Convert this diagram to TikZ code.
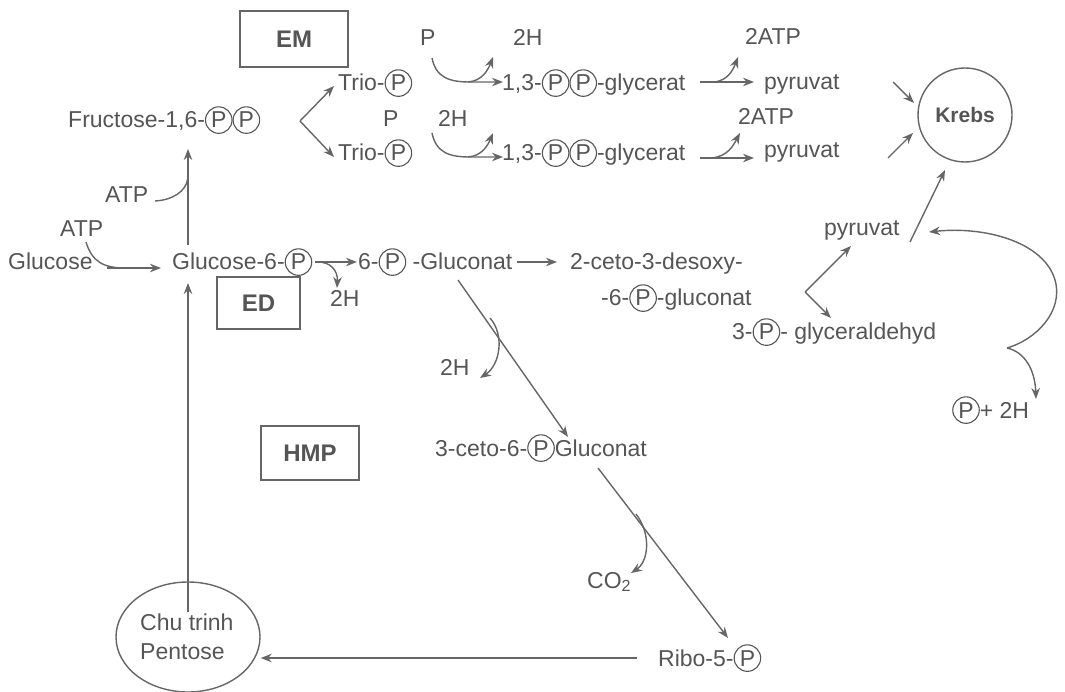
\documentclass[tikz,border=0pt]{standalone}
\usepackage{fontspec}
\setmainfont{Liberation Sans}
\usetikzlibrary{arrows.meta,shapes.geometric}
\definecolor{txt}{HTML}{555555}
\definecolor{lnc}{HTML}{666666}
\newcommand{\cP}{\tikz[baseline=(cpin.base)]\node[draw=txt,circle,line width=1.1pt,inner sep=0pt,minimum size=26.5pt,text=txt] (cpin) {P};}
\tikzset{
  lbl/.style={anchor=base west, inner sep=0pt, text=txt, font=\fontsize{23}{27}\selectfont},
  boxlbl/.style={draw=lnc, line width=1.4pt, text=txt, font=\fontsize{24}{28}\selectfont\bfseries, inner sep=0pt},
  arr/.style={draw=lnc, line width=1.4pt, -{Stealth[length=11pt,width=8.5pt]}},
  pln/.style={draw=lnc, line width=1.4pt}
}
\begin{document}
\begin{tikzpicture}[x=1pt,y=-1pt]
\useasboundingbox (0,0) rectangle (1065,692);
% boxes
\node[boxlbl, minimum width=108pt, minimum height=56pt] (em) at (294,39) {EM};
\node[boxlbl, minimum width=83pt, minimum height=52pt] (ed) at (258.5,303) {ED};
\node[boxlbl, minimum width=98pt, minimum height=54pt] (hmp) at (310,453) {HMP};
\node[draw=lnc, line width=1.4pt, circle, minimum size=94pt, inner sep=0pt, text=txt, font=\fontsize{21}{25}\selectfont\bfseries] (krebs) at (965,115) {Krebs};
\node[draw=lnc, line width=1.4pt, ellipse, minimum width=144pt, minimum height=110pt] (pent) at (188,637) {};
\node[text=txt, font=\fontsize{23}{29}\selectfont, align=left, anchor=north west, inner sep=0pt] (pentt) at (140,614) {Chu trinh\\Pentose};
% labels
\node[lbl] (fru) at (68,128) {Fructose-1,6-\cP\cP};
\node[lbl] (trio1) at (338,91) {Trio-\cP};
\node[lbl] (trio2) at (338,161) {Trio-\cP};
\node[lbl] (p1) at (420,46) {P};
\node[lbl] (h1) at (513,46) {2H};
\node[lbl] (p2) at (383,127) {P};
\node[lbl] (h2) at (438,127) {2H};
\node[lbl] (gly1) at (502,91) {1,3-\cP\cP-glycerat};
\node[lbl] (gly2) at (502,161) {1,3-\cP\cP-glycerat};
\node[lbl] (atp1) at (745,45) {2ATP};
\node[lbl] (atp2) at (738,125) {2ATP};
\node[lbl] (pyr1) at (764,90) {pyruvat};
\node[lbl] (pyr2) at (764,158) {pyruvat};
\node[lbl] (atpa) at (105,203) {ATP};
\node[lbl] (atpb) at (60,237) {ATP};
\node[lbl] (glc) at (8,270) {Glucose};
\node[lbl] (g6p) at (172,270) {Glucose-6-\cP};
\node[lbl] (h3) at (330,307) {2H};
\node[lbl] (gluc) at (358,270) {6-\cP\ -Gluconat};
\node[lbl] (keto) at (570,270) {2-ceto-3-desoxy-};
\node[lbl] (keto2) at (601,306) {-6-\cP-gluconat};
\node[lbl] (gap) at (732,340) {3-\cP- glyceraldehyd};
\node[lbl] (pyr3) at (824,236) {pyruvat};
\node[lbl] (ph) at (952,418) {\cP+ 2H};
\node[lbl] (h4) at (440,375) {2H};
\node[lbl] (cg) at (435,456) {3-ceto-6-\cP Gluconat};
\node[lbl] (co2) at (587,588) {CO\textsubscript{2}};
\node[lbl] (ribo) at (658,666) {Ribo-5-\cP};
% coordinates
\coordinate (v1) at (300,121);
\coordinate (t1) at (334,86);
\coordinate (t2) at (334,157);
\coordinate (a1s) at (432,58);
\coordinate (a1m) at (470,82);
\coordinate (a1e) at (503,82);
\coordinate (a1b) at (493,57);
\coordinate (a2s) at (432,133);
\coordinate (a2m) at (470,157);
\coordinate (a2e) at (503,157);
\coordinate (a2b) at (493,133);
\coordinate (b1s) at (700,82);
\coordinate (b1e) at (754,82);
\coordinate (b1m) at (715,82);
\coordinate (b1b) at (738,57);
\coordinate (b2s) at (700,158);
\coordinate (b2e) at (754,158);
\coordinate (b2m) at (712,158);
\coordinate (b2b) at (740,133);
\coordinate (k1s) at (893,82);
\coordinate (k1e) at (914,103);
\coordinate (k2s) at (888,158);
\coordinate (k2e) at (913,133);
\coordinate (k3s) at (910,242);
\coordinate (k3e) at (945,170);
\coordinate (fv1) at (188,245);
\coordinate (fv2) at (188,149);
\coordinate (fva) at (155,201);
\coordinate (fvj) at (188,178);
\coordinate (pv1) at (188,612);
\coordinate (pv2) at (188,283);
\coordinate (gl1) at (107,268);
\coordinate (gl2) at (161,268);
\coordinate (gla) at (86,242);
\coordinate (glj) at (125,268);
\coordinate (g61) at (315,262);
\coordinate (g62) at (357,262);
\coordinate (g6b) at (337,288);
\coordinate (gc1) at (517,262);
\coordinate (gc2) at (557,262);
\coordinate (d1) at (458,280);
\coordinate (d2) at (568,437);
\coordinate (d1b) at (490,318);
\coordinate (d1e) at (480,378);
\coordinate (r1) at (598,468);
\coordinate (r2) at (728,638);
\coordinate (r1b) at (636,514);
\coordinate (r1e) at (631,573);
\coordinate (rl) at (637,658);
\coordinate (v2) at (805,292);
\coordinate (v2a) at (851,246);
\coordinate (v2b) at (831,318);
\coordinate (cusp) at (1007,348);
\coordinate (lpe) at (929,232);
\coordinate (lpd) at (1036,399);
% connectors
\draw[arr] (v1) -- (t1);
\draw[arr] (v1) -- (t2);
\draw[arr] (a1s) .. controls (436,78) and (450,82) .. (a1m) -- (a1e);
\draw[arr] (468,82) .. controls (482,81) and (488,70) .. (a1b);
\draw[arr] (a2s) .. controls (436,153) and (450,157) .. (a2m) -- (a2e);
\draw[arr] (468,157) .. controls (482,156) and (488,145) .. (a2b);
\draw[arr] (b1s) -- (b1e);
\draw[arr] (b1m) .. controls (728,80) and (733,70) .. (b1b);
\draw[arr] (b2s) -- (b2e);
\draw[arr] (b2m) .. controls (728,156) and (733,146) .. (b2b);
\draw[arr] (k1s) -- (k1e);
\draw[arr] (k2s) -- (k2e);
\draw[arr] (k3s) -- (k3e);
\draw[arr] (fv1) -- (fv2);
\draw[pln] (fva) .. controls (172,200) and (186,192) .. (fvj);
\draw[arr] (pv1) -- (pv2);
\draw[arr] (gl1) -- (gl2);
\draw[pln] (gla) .. controls (92,262) and (104,268) .. (glj);
\draw[arr] (g61) -- (g62);
\draw[arr] (318,262) .. controls (330,262) and (338,270) .. (g6b);
\draw[arr] (gc1) -- (gc2);
\draw[arr] (d1) -- (d2);
\draw[arr] (d1b) .. controls (505,335) and (500,365) .. (d1e);
\draw[arr] (r1) -- (r2);
\draw[arr] (r1b) .. controls (652,535) and (648,562) .. (r1e);
\draw[arr] (rl) -- (pent.east |- rl);
\draw[arr] (v2) -- (v2a);
\draw[arr] (v2) -- (v2b);
\draw[arr] (cusp) .. controls (1035,340) and (1064,312) .. (1055,280) .. controls (1044,242) and (985,226) .. (lpe);
\draw[arr] (cusp) .. controls (1025,352) and (1035,370) .. (lpd);
\end{tikzpicture}
\end{document}
